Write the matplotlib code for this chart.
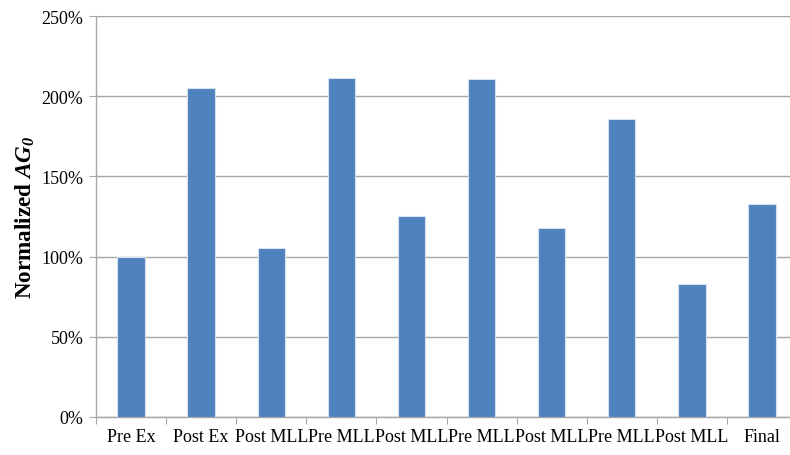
#!/usr/bin/env python3
"""Normalized AG0 across exercise / MLL stages, as a single-series bar chart."""
import matplotlib.pyplot as plt
import numpy as np
from matplotlib.ticker import FixedLocator, PercentFormatter

stages = ["Pre Ex", "Post Ex", "Post MLL", "Pre MLL", "Post MLL",
          "Pre MLL", "Post MLL", "Pre MLL", "Post MLL", "Final"]
ag0_pct = [100.0, 204.9, 105.2, 211.6, 125.5, 211.0, 117.6, 186.0, 82.8, 132.6]

plt.rcParams["font.family"] = "serif"
plt.rcParams["font.serif"] = ["Liberation Serif", "DejaVu Serif"]
plt.rcParams["mathtext.fontset"] = "custom"
plt.rcParams["mathtext.rm"] = "Liberation Serif"
plt.rcParams["mathtext.it"] = "Liberation Serif:italic"
plt.rcParams["mathtext.bf"] = "Liberation Serif:bold"
plt.rcParams["mathtext.bfit"] = "Liberation Serif:italic:bold"

bar_color = "#4F81BD"
grid_color = "#A6A6A6"

fig = plt.figure(figsize=(7.9, 4.56), dpi=100)
ax = fig.add_axes([96 / 790, 1 - 418 / 456, 1 - 96 / 790, 401 / 456])

x = np.arange(len(stages))
ax.bar(x, ag0_pct, width=0.39, color=bar_color, edgecolor="#D5E0F0",
       linewidth=0.8, zorder=3)

ax.set_ylim(0, 250)
ax.set_yticks(np.arange(0, 251, 50))
ax.yaxis.set_major_formatter(PercentFormatter(decimals=0))
ax.set_xlim(-0.5, 9.5 - 7 / 70.1)

# category boundaries get the tick marks, centres get the labels
ax.xaxis.set_major_locator(FixedLocator(np.arange(-0.5, 10.0, 1.0)))
ax.xaxis.set_major_formatter(plt.NullFormatter())
ax.xaxis.set_minor_locator(FixedLocator(x))
ax.set_xticklabels(stages, minor=True)

ax.grid(axis="y", color=grid_color, linewidth=1.0, zorder=0)
for side in ("top", "right"):
    ax.spines[side].set_visible(False)
for side in ("left", "bottom"):
    ax.spines[side].set_color(grid_color)
    ax.spines[side].set_linewidth(1.0)

ax.tick_params(axis="y", which="major", length=5, color=grid_color,
               labelsize=13, pad=4)
ax.tick_params(axis="x", which="major", length=5, color=grid_color)
ax.tick_params(axis="x", which="minor", length=0, labelsize=13, pad=8)

ax.set_ylabel(r"Normalized $\mathbfit{AG}_{\mathbfit{0}}$", fontsize=16.7,
              fontweight="bold", labelpad=3)

fig.savefig("out.png", dpi=100)
